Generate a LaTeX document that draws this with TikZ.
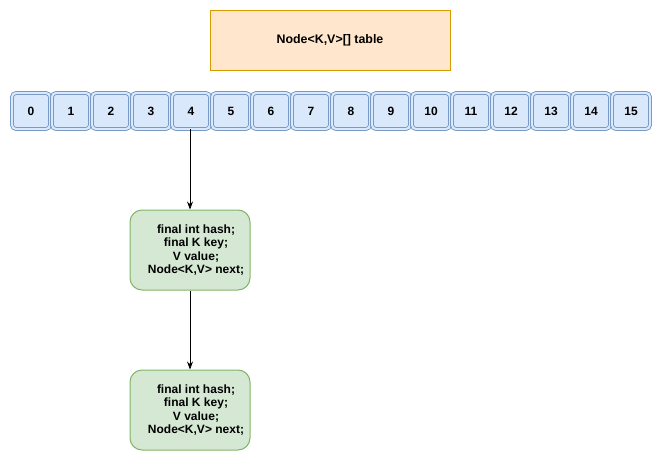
\documentclass[tikz,border=0pt]{standalone}
\usepackage{fontspec}
\setmainfont{Liberation Sans}
\usetikzlibrary{arrows.meta}
\definecolor{cellfill}{HTML}{DAE8FC}
\definecolor{celldraw}{HTML}{6C8EBF}
\definecolor{topfill}{HTML}{FFE6CC}
\definecolor{topdraw}{HTML}{D79B00}
\definecolor{nodefill}{HTML}{D5E8D4}
\definecolor{nodedraw}{HTML}{82B366}
\tikzset{
  cell/.style={draw=celldraw, fill=cellfill, double=cellfill, double distance=1.6pt, line width=0.6pt,
    rounded corners=3pt, minimum width=28.5pt, minimum height=27pt, inner sep=0pt,
    font=\bfseries\fontsize{9pt}{10pt}\selectfont},
  tablebox/.style={draw=topdraw, fill=topfill, line width=0.75pt, minimum width=180pt, minimum height=45pt,
    inner sep=0pt, font=\bfseries\fontsize{9.3pt}{10pt}\selectfont},
  entry/.style={draw=nodedraw, fill=nodefill, line width=0.75pt, rounded corners=9pt, minimum width=90pt,
    minimum height=60pt, inner sep=0pt, align=center, font=\bfseries\fontsize{9pt}{10pt}\selectfont},
  entrytext/.style={align=center, inner sep=0pt, font=\bfseries\fontsize{9pt}{10pt}\selectfont},
  link/.style={-{Stealth[length=6pt,width=4.5pt]}, line width=0.6pt}
}
\begin{document}
\begin{tikzpicture}[x=0.75pt,y=-0.75pt]
\useasboundingbox (0,0) rectangle (661,461);
\node[tablebox] (table) at (330,40) {Node<K,V>[] table};
\foreach \i in {0,...,15} {
  \node[cell] (c\i) at ({31+40*\i},111) {\i};
}
\node[entry] (n1) at (190,250) {};
\node[entrytext] (t1) at (196,250) {final int hash;\\final K key;\\V value;\\Node<K,V> next;};
\node[entry] (n2) at (190,410) {};
\node[entrytext] (t2) at (196,410) {final int hash;\\final K key;\\V value;\\Node<K,V> next;};
\draw[link] (c4.south -| n1.north) -- (n1.north);
\draw[link] (n1.south) -- (n2.north);
\end{tikzpicture}
\end{document}
